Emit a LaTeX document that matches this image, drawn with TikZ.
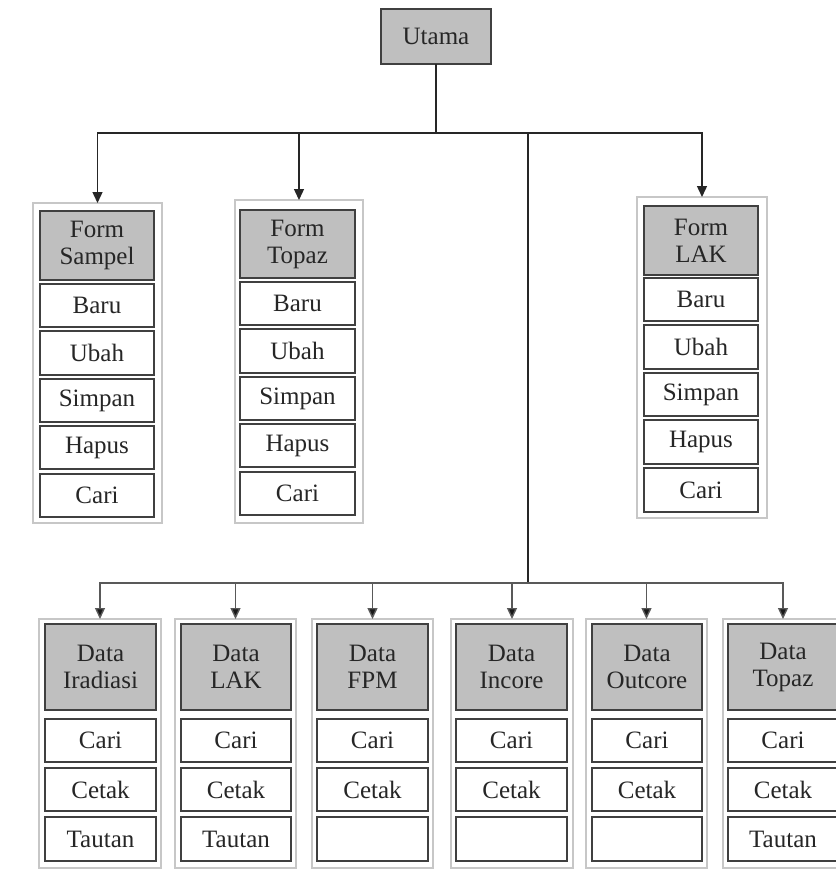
\documentclass[tikz,border=0pt]{standalone}
\usepackage{fontspec}
\setmainfont{Liberation Serif}
\usetikzlibrary{arrows.meta}
\newcommand\bx[7]{%
  \pgfmathsetmacro\bxw{#4-#2}\pgfmathsetmacro\bxh{#5-#3}%
  \node[#6, minimum width=\bxw pt, minimum height=\bxh pt] (#1) at ({(#2+#4)/2},{(#3+#5)/2}) {#7};}
\begin{document}
\begin{tikzpicture}[x=1pt,y=-1pt,
  base/.style={rectangle, inner sep=0pt, outer sep=0pt, align=center,
    font=\fontsize{25}{27}\selectfont, text=black!85},
  outerbox/.style={base, draw=black!60, line width=0.7pt, double=black!22, double distance=1.4pt},
  head/.style={base, draw=black!75, line width=1.4pt, fill=gray!50},
  item/.style={base, draw=black!75, line width=1.4pt, fill=white},
  conn/.style={draw=black!85, line width=1.4pt},
  conn2/.style={draw=black!65, line width=1.4pt},
  arr/.style={conn, -{Triangle[width=10pt,length=11pt]}},
  arr2/.style={conn2, -{Triangle[width=10pt,length=11pt]}, arrows={[fill=black!90]}}]
\useasboundingbox (0,0) rectangle (836,871);
\clip (0,0) rectangle (836,871);
\fill[white] (0,0) rectangle (836,871);
% root
\bx{ut}{381}{9}{491}{64}{head}{Utama}
% Form Sampel
\bx{fs}{33}{203}{162}{523}{outerbox}{}
\bx{fsh}{40}{211}{154}{280}{head}{Form\\Sampel}
\bx{fs1}{40}{284}{154}{327}{item}{Baru}
\bx{fs2}{40}{331}{154}{375}{item}{Ubah}
\bx{fs3}{40}{379}{154}{422}{item}{Simpan}
\bx{fs4}{40}{426}{154}{469}{item}{Hapus}
\bx{fs5}{40}{474}{154}{517}{item}{Cari}
% Form Topaz
\bx{ft}{235}{200}{363}{523}{outerbox}{}
\bx{fth}{240}{210}{355}{278}{head}{Form\\Topaz}
\bx{ft1}{240}{282}{355}{325}{item}{Baru}
\bx{ft2}{240}{329}{355}{373}{item}{Ubah}
\bx{ft3}{240}{377}{355}{420}{item}{Simpan}
\bx{ft4}{240}{424}{355}{467}{item}{Hapus}
\bx{ft5}{240}{472}{355}{515}{item}{Cari}
% Form LAK
\bx{fl}{637}{197}{767}{518}{outerbox}{}
\bx{flh}{644}{206}{758}{275}{head}{Form\\LAK}
\bx{fl1}{644}{278}{758}{321}{item}{Baru}
\bx{fl2}{644}{325}{758}{369}{item}{Ubah}
\bx{fl3}{644}{373}{758}{416}{item}{Simpan}
\bx{fl4}{644}{420}{758}{464}{item}{Hapus}
\bx{fl5}{644}{468}{758}{512}{item}{Cari}
% Data Iradiasi
\bx{di}{39}{619}{161}{868}{outerbox}{}
\bx{dih}{45}{624}{156}{710}{head}{Data\\Iradiasi}
\bx{di1}{45}{719}{156}{762}{item}{Cari}
\bx{di2}{45}{768}{156}{811}{item}{Cetak}
\bx{di3}{45}{817}{156}{861}{item}{Tautan}
% Data LAK
\bx{dl}{175}{619}{296}{868}{outerbox}{}
\bx{dlh}{181}{624}{291}{710}{head}{Data\\LAK}
\bx{dl1}{181}{719}{291}{762}{item}{Cari}
\bx{dl2}{181}{768}{291}{811}{item}{Cetak}
\bx{dl3}{181}{817}{291}{861}{item}{Tautan}
% Data FPM
\bx{df}{312}{619}{433}{868}{outerbox}{}
\bx{dfh}{317}{624}{428}{710}{head}{Data\\FPM}
\bx{df1}{317}{719}{428}{762}{item}{Cari}
\bx{df2}{317}{768}{428}{811}{item}{Cetak}
\bx{df3}{317}{817}{428}{861}{item}{}
% Data Incore
\bx{dn}{451}{619}{573}{868}{outerbox}{}
\bx{dnh}{456}{624}{567}{710}{head}{Data\\Incore}
\bx{dn1}{456}{719}{567}{762}{item}{Cari}
\bx{dn2}{456}{768}{567}{811}{item}{Cetak}
\bx{dn3}{456}{817}{567}{861}{item}{}
% Data Outcore
\bx{do}{586}{619}{707}{868}{outerbox}{}
\bx{doh}{592}{624}{702}{710}{head}{Data\\Outcore}
\bx{do1}{592}{719}{702}{762}{item}{Cari}
\bx{do2}{592}{768}{702}{811}{item}{Cetak}
\bx{do3}{592}{817}{702}{861}{item}{}
% Data Topaz
\bx{dt}{723}{619}{843}{868}{outerbox}{}
\bx{dth}{728}{624}{838}{710}{head}{Data\\Topaz}
\bx{dt1}{728}{719}{838}{762}{item}{Cari}
\bx{dt2}{728}{768}{838}{811}{item}{Cetak}
\bx{dt3}{728}{817}{838}{861}{item}{Tautan}
% junctions
\coordinate (j1) at (436,133);
\coordinate (j2) at (528,133);
\coordinate (j3) at (528,583);
% connectors
\draw[conn] (ut.south) -- (j1);
\draw[arr] (j1) -| (fs.north);
\draw[arr] (j1) -| (ft.north);
\draw[conn] (j1) -- (j2);
\draw[arr] (j2) -| (fl.north);
\draw[conn] (j2) -- (j3);
\draw[arr2] (j3) -| (di.north);
\draw[arr2] (j3) -| (dl.north);
\draw[arr2] (j3) -| (df.north);
\draw[arr2] (j3) -| (dn.north);
\draw[arr2] (j3) -| (do.north);
\draw[arr2] (j3) -| (dt.north);
\end{tikzpicture}
\end{document}
